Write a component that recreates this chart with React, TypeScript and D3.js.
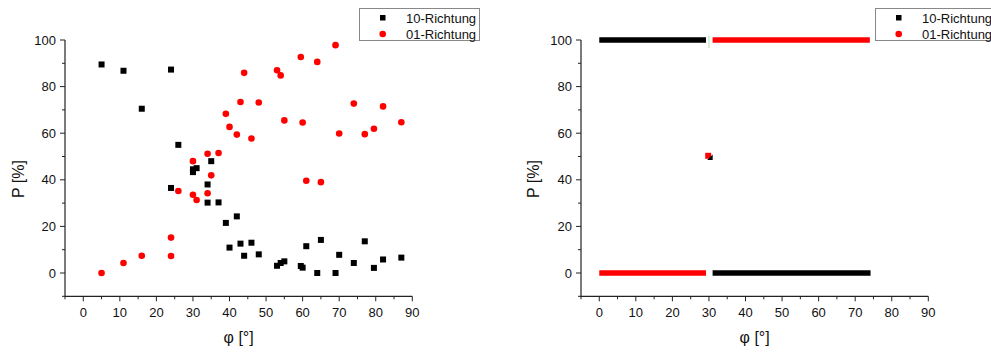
import React from "react";
import * as d3 from "d3";

// Left panel data: [phi, P]
const leftBlack: [number, number][] = [
  [5, 89.5], [11, 86.8], [24, 87.3], [16, 70.5], [26, 55], [30, 43.3], [30, 44.5], [31, 45],
  [35, 48], [24, 36.5], [34, 38], [34, 30.2], [37, 30.3], [39, 21.5], [42, 24.3], [40, 10.9],
  [43, 12.6], [46, 13], [44, 7.4], [48, 8], [53, 3.1], [54, 4.3], [55, 5], [59.5, 3], [60, 2.3],
  [61, 11.5], [64, 0], [65, 14.2], [69, 0], [70, 7.8], [74, 4.3], [77, 13.6], [79.5, 2.2],
  [82, 5.8], [87, 6.6],
];
const leftRed: [number, number][] = [
  [5, 0], [11, 4.3], [16, 7.4], [24, 15.2], [24, 7.3], [26, 35.2], [30, 48], [30, 33.6],
  [31, 31.3], [34, 51.2], [34, 34.2], [35, 41.9], [37, 51.5], [39, 68.3], [40, 62.7],
  [42, 59.4], [43, 73.4], [44, 85.9], [46, 57.7], [48, 73.2], [53, 87], [54, 84.8],
  [55, 65.5], [59.5, 92.7], [60, 64.6], [61, 39.6], [64, 90.6], [65, 39], [69, 97.8],
  [70, 59.9], [74, 72.7], [77, 59.6], [79.5, 61.9], [82, 71.5], [87, 64.7],
];

// Right panel: dense runs of points, as [phiStart, phiEnd, P]
const rightBlackRuns: [number, number, number][] = [[0, 29.2, 100], [31, 74.2, 0]];
const rightRedRuns: [number, number, number][] = [[0, 29.2, 0], [31, 74, 100]];
const rightBlackPts: [number, number][] = [[30.2, 49.6]];
const rightRedPts: [number, number][] = [[29.8, 50.3]];

const xTicks = [0, 10, 20, 30, 40, 50, 60, 70, 80, 90];
const xMinor = [-5, 5, 15, 25, 35, 45, 55, 65, 75, 85];
const yTicks = [0, 20, 40, 60, 80, 100];
const yMinor = [-10, 10, 30, 50, 70, 90];
const legendLabels = ["10-Richtung", "01-Richtung"];

const FONT = "'Liberation Sans', Arial, sans-serif";

function Axes({ x, y, titleX, titleYx }: { x: d3.ScaleLinear<number, number>; y: d3.ScaleLinear<number, number>; titleX: number; titleYx: number }) {
  const [x0, x1] = x.range();
  const [y0, y1] = y.range();
  const c = "#222";
  return (
    <g>
      <line x1={x0} x2={x0} y1={y0 + 0.5} y2={y1} stroke={c} strokeWidth={1.2} />
      <line x1={x0} x2={x1} y1={y0} y2={y0} stroke={c} strokeWidth={1.2} />
      {yTicks.map((t) => (
        <g key={"y" + t}>
          <line x1={x0 - 5} x2={x0} y1={y(t)} y2={y(t)} stroke={c} />
          <text x={x0 - 9} y={y(t) + 4.5} textAnchor="end" fontSize={13} fontFamily={FONT} fill="#111">{t}</text>
        </g>
      ))}
      {yMinor.map((t) => (
        <line key={"ym" + t} x1={x0 - 3} x2={x0} y1={y(t)} y2={y(t)} stroke={c} />
      ))}
      {xTicks.map((t) => (
        <g key={"x" + t}>
          <line x1={x(t)} x2={x(t)} y1={y0} y2={y0 + 5} stroke={c} />
          <text x={x(t)} y={y0 + 21} textAnchor="middle" fontSize={13} fontFamily={FONT} fill="#111">{t}</text>
        </g>
      ))}
      {xMinor.map((t) => (
        <line key={"xm" + t} x1={x(t)} x2={x(t)} y1={y0} y2={y0 + 3} stroke={c} />
      ))}
      <text x={(x0 + x1) / 2} y={343} textAnchor="middle" fontSize={16} fontFamily={FONT} fill="#111">φ [°]</text>
      <text transform={`translate(${titleYx},179) rotate(-90)`} textAnchor="middle" fontSize={16} fontFamily={FONT} fill="#111">P [%]</text>
    </g>
  );
}

function Legend({ x0, width }: { x0: number; width: number }) {
  return (
    <g>
      <rect x={x0 + 0.5} y={8.5} width={width} height={32} fill="#fff" stroke="#888" />
      <rect x={x0 + 21} y={15} width={5.5} height={5.5} fill="#000" />
      <circle cx={x0 + 23.7} cy={34} r={3.3} fill="#f00" />
      {legendLabels.map((l, i) => (
        <text key={l} x={x0 + 47} y={22.5 + i * 16} fontSize={13} fontFamily={FONT} fill="#111">{l}</text>
      ))}
    </g>
  );
}

export default function App() {
  const yL = d3.scaleLinear().domain([-10, 100]).range([296.3, 40]);
  const xL = d3.scaleLinear().domain([-5, 90]).range([65, 412.3]);
  const xR = d3.scaleLinear().domain([-5, 90]).range([581, 928.3]);
  const s = 6;
  const r = 3.3;
  const th = 5.5;
  return (
    <svg width={991} height={352} style={{ position: "absolute", left: 0, top: 0, background: "#fff" }}>
      <rect width={991} height={352} fill="#fff" />
      {/* Left panel */}
      <Axes x={xL} y={yL} titleX={0} titleYx={24} />
      {leftBlack.map(([a, b], i) => (
        <rect key={"lb" + i} x={xL(a) - s / 2} y={yL(b) - s / 2} width={s} height={s} fill="#000" />
      ))}
      {leftRed.map(([a, b], i) => (
        <circle key={"lr" + i} cx={xL(a)} cy={yL(b)} r={r} fill="#f00" />
      ))}
      <Legend x0={359} width={120} />

      {/* Right panel */}
      <Axes x={xR} y={yL} titleX={0} titleYx={539} />
      {rightBlackRuns.map(([a, b, p], i) => (
        <rect key={"rb" + i} x={xR(a)} y={yL(p) - th / 2} width={xR(b) - xR(a)} height={th} fill="#000" />
      ))}
      {rightRedRuns.map(([a, b, p], i) => (
        <rect key={"rr" + i} x={xR(a)} y={yL(p) - th / 2} width={xR(b) - xR(a)} height={th} fill="#f00" />
      ))}
      <line x1={xR(30)} x2={xR(30)} y1={yL(102)} y2={yL(96.5)} stroke="#9ad89a" strokeWidth={0.8} />
      {rightRedPts.map(([a, b], i) => (
        <rect key={"rrp" + i} x={xR(a) - 3} y={yL(b) - 3} width={6} height={6} fill="#f00" />
      ))}
      {rightBlackPts.map(([a, b], i) => (
        <path key={"rbp" + i} d={`M${xR(a) + 3},${yL(b) - 3} L${xR(a) + 3},${yL(b) + 2.5} L${xR(a) - 2.5},${yL(b) + 2.5} Z`} fill="#000" />
      ))}
      <Legend x0={875} width={130} />
    </svg>
  );
}
